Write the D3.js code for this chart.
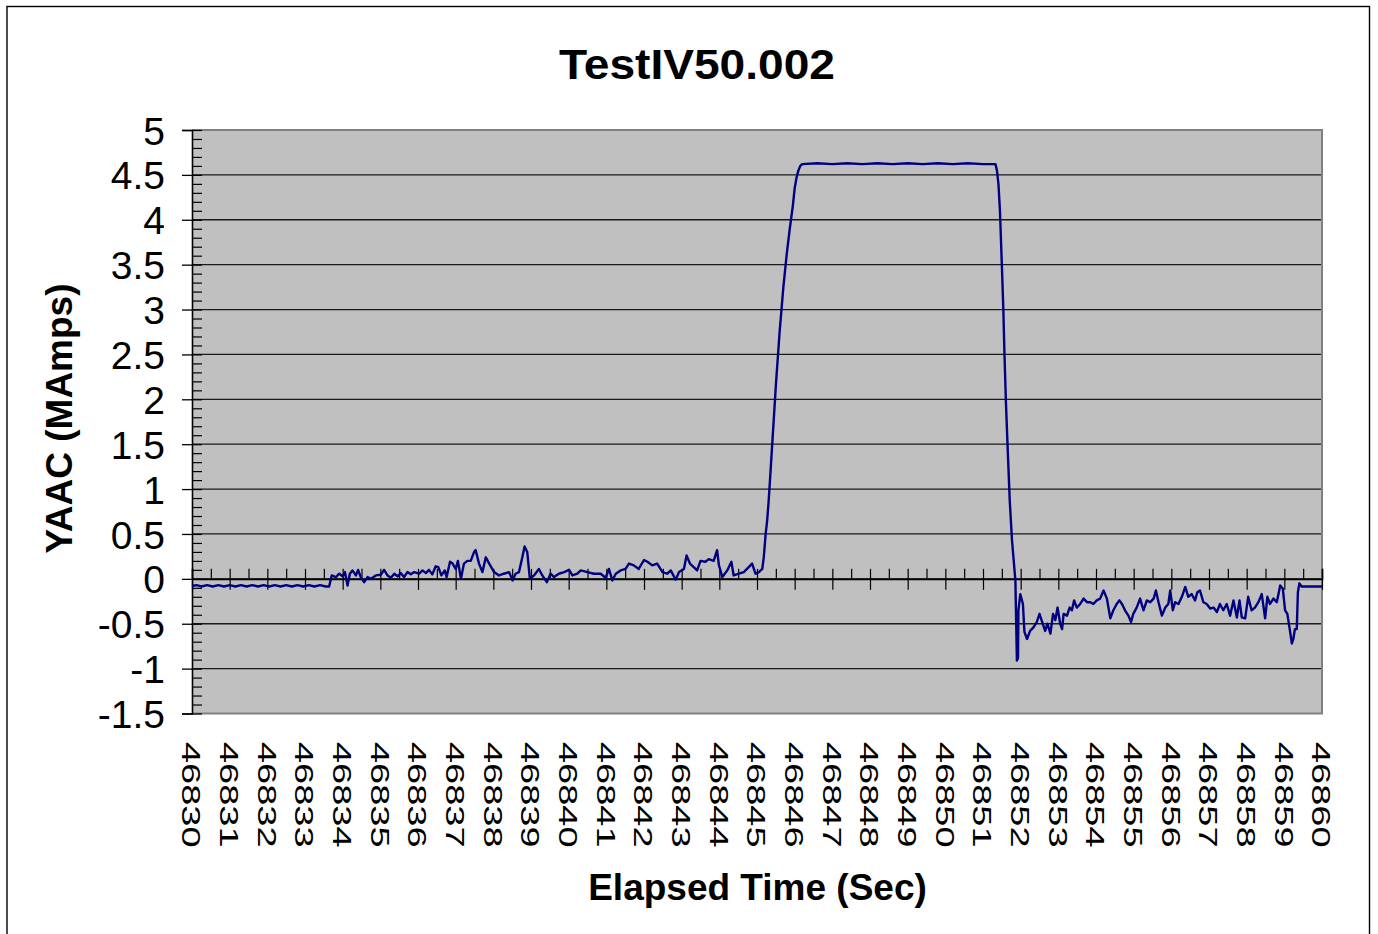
<!DOCTYPE html>
<html>
<head>
<meta charset="utf-8">
<script src="https://cdn.jsdelivr.net/npm/d3@7"></script>
<style>
  html, body { margin: 0; padding: 0; background: #fff; }
  svg { display: block; font-family: 'Liberation Sans', Arial, sans-serif; }
</style>
</head>
<body>
<svg id="chart" width="1378" height="934"></svg>
<script>
// seconds after 46830, YAAC in MAmps
const startSec = 46830
const endSec = 46860

const idleTrace = [
  [0, -0.08], [0.12, -0.07], [0.25, -0.085], [0.4, -0.07], [0.55, -0.085], [0.7, -0.07], [0.85, -0.085],
  [1.0, -0.07], [1.15, -0.085], [1.3, -0.07], [1.45, -0.085], [1.6, -0.07], [1.75, -0.085], [1.9, -0.07],
  [2.05, -0.085], [2.2, -0.07], [2.35, -0.085], [2.5, -0.07], [2.65, -0.085], [2.8, -0.07], [2.95, -0.085],
  [3.1, -0.07], [3.25, -0.085], [3.4, -0.07], [3.55, -0.085], [3.64, -0.085]
]

const preTrace = [
  [3.71, 0.038], [3.82, 0.02], [3.91, 0.057], [4.0, 0.027], [4.06, 0.075], [4.13, -0.074], [4.19, 0.057],
  [4.26, 0.094], [4.35, 0.038], [4.41, 0.1], [4.48, 0.02], [4.57, -0.037], [4.66, 0.02], [4.75, 0.0],
  [4.88, 0.038], [5.01, 0.046], [5.1, 0.1], [5.19, 0.038], [5.28, 0.012], [5.37, 0.057], [5.46, 0.027],
  [5.54, 0.064], [5.63, 0.02], [5.72, 0.075], [5.81, 0.05], [5.9, 0.075], [6.03, 0.057], [6.12, 0.094],
  [6.21, 0.064], [6.29, 0.1], [6.38, 0.05], [6.47, 0.14], [6.54, 0.13], [6.62, 0.038], [6.71, 0.094],
  [6.76, 0.02], [6.85, 0.19], [6.92, 0.17], [7.0, 0.11], [7.06, 0.2], [7.14, 0.0], [7.22, 0.17],
  [7.31, 0.2], [7.4, 0.2], [7.49, 0.3], [7.53, 0.32], [7.62, 0.17], [7.71, 0.075], [7.8, 0.24],
  [7.89, 0.17], [8.02, 0.075], [8.15, 0.038], [8.28, 0.057], [8.42, 0.075], [8.51, -0.018], [8.59, 0.057],
  [8.68, 0.075], [8.77, 0.24], [8.83, 0.36], [8.9, 0.3], [8.97, 0.0], [9.08, 0.038], [9.21, 0.11],
  [9.3, 0.038], [9.42, -0.037], [9.52, 0.057], [9.61, 0.02], [9.74, 0.057], [9.88, 0.075], [10.01, 0.1],
  [10.1, 0.038], [10.23, 0.057], [10.32, 0.094], [10.5, 0.075], [10.67, 0.057], [10.85, 0.057], [10.98, 0.012],
  [11.07, 0.11], [11.16, -0.018], [11.25, 0.057], [11.38, 0.094], [11.51, 0.11], [11.6, 0.17], [11.73, 0.15],
  [11.86, 0.11], [12.0, 0.21], [12.09, 0.19], [12.22, 0.15], [12.35, 0.17], [12.49, 0.075], [12.62, 0.057],
  [12.71, 0.094], [12.84, -0.01], [12.93, 0.075], [13.06, 0.11], [13.13, 0.26], [13.22, 0.17], [13.32, 0.13],
  [13.41, 0.094], [13.5, 0.2], [13.63, 0.19], [13.72, 0.22], [13.85, 0.2], [13.94, 0.32], [13.99, 0.15],
  [14.08, 0.02], [14.21, 0.094], [14.32, 0.19], [14.38, 0.038], [14.52, 0.057], [14.65, 0.075], [14.78, 0.13],
  [14.87, 0.17], [14.96, 0.057], [15.05, 0.075], [15.14, 0.11], [15.18, 0.24]
]

const pulseTrace = [
  [15.23, 0.5], [15.27, 0.65], [15.31, 0.87], [15.36, 1.2], [15.41, 1.54], [15.5, 2.15], [15.6, 2.75],
  [15.7, 3.25], [15.79, 3.62], [15.87, 3.9], [15.95, 4.15], [16.0, 4.35], [16.05, 4.47],
  [16.1, 4.55], [16.15, 4.6], [16.2, 4.62], [16.6, 4.63], [17.0, 4.62], [17.4, 4.63], [17.8, 4.62],
  [18.2, 4.63], [18.6, 4.62], [19.0, 4.63], [19.4, 4.62], [19.8, 4.63], [20.2, 4.62], [20.6, 4.63],
  [21.0, 4.62], [21.33, 4.62], [21.37, 4.55], [21.41, 4.4], [21.45, 4.1], [21.5, 3.5], [21.54, 3.0],
  [21.57, 2.5], [21.61, 1.95], [21.66, 1.4], [21.71, 0.87], [21.77, 0.43], [21.86, -0.02], [21.9, -0.91],
  [21.93, -0.88]
]

const postTrace = [
  [21.94, -0.35], [21.99, -0.17], [22.06, -0.28], [22.1, -0.59], [22.17, -0.67], [22.25, -0.58], [22.34, -0.54],
  [22.43, -0.48], [22.5, -0.39], [22.57, -0.48], [22.65, -0.58], [22.71, -0.5], [22.79, -0.61], [22.86, -0.39],
  [22.92, -0.46], [22.98, -0.32], [23.05, -0.5], [23.1, -0.56], [23.14, -0.39], [23.23, -0.41], [23.3, -0.32],
  [23.36, -0.35], [23.42, -0.24], [23.49, -0.32], [23.58, -0.28], [23.67, -0.22], [23.76, -0.26], [23.85, -0.26],
  [23.93, -0.28], [24.02, -0.24], [24.11, -0.22], [24.2, -0.13], [24.29, -0.22], [24.38, -0.44], [24.46, -0.35],
  [24.55, -0.28], [24.62, -0.24], [24.69, -0.28], [24.77, -0.35], [24.86, -0.41], [24.93, -0.48], [24.99, -0.39],
  [25.08, -0.32], [25.17, -0.22], [25.26, -0.35], [25.35, -0.24], [25.44, -0.26], [25.53, -0.22], [25.59, -0.13],
  [25.66, -0.26], [25.75, -0.41], [25.84, -0.32], [25.92, -0.28], [25.97, -0.13], [26.04, -0.35], [26.1, -0.26],
  [26.19, -0.28], [26.28, -0.2], [26.37, -0.09], [26.45, -0.2], [26.54, -0.17], [26.63, -0.24], [26.69, -0.15],
  [26.76, -0.13], [26.85, -0.26], [26.94, -0.28], [27.03, -0.33], [27.12, -0.32], [27.21, -0.37], [27.29, -0.28],
  [27.38, -0.35], [27.47, -0.28], [27.56, -0.41], [27.65, -0.24], [27.74, -0.43], [27.81, -0.24], [27.87, -0.43],
  [27.96, -0.44], [28.04, -0.2], [28.13, -0.35], [28.22, -0.32], [28.31, -0.26], [28.4, -0.17], [28.49, -0.44],
  [28.55, -0.2], [28.62, -0.28], [28.71, -0.22], [28.8, -0.26], [28.89, -0.074], [28.96, -0.11], [29.02, -0.35],
  [29.08, -0.39], [29.15, -0.58], [29.2, -0.72], [29.24, -0.67], [29.28, -0.56], [29.33, -0.56], [29.36, -0.15],
  [29.4, -0.05], [29.46, -0.085], [30.0, -0.085]
]

const yTicks = [-1.5, -1, -0.5, 0, 0.5, 1, 1.5, 2, 2.5, 3, 3.5, 4, 4.5, 5]
const xLabels = d3.range(startSec, endSec + 1)

const title = 'TestIV50.002'
const yTitle = 'YAAC (MAmps)'
const xTitle = 'Elapsed Time (Sec)'

const svg = d3.select('#chart')
const plot = { left: 192, right: 1322, top: 130, bottom: 713.5 }

const x = d3.scaleLinear().domain([startSec, endSec]).range([plot.left, plot.right])
const y = d3.scaleLinear().domain([-1.5, 5]).range([plot.bottom, plot.top])
const fmt = (v) => String(v).replace('\u2212', '-')

// outer frame
svg.append('rect').attr('x', 7).attr('y', 6.5).attr('width', 1362.5).attr('height', 960)
  .attr('fill', '#fff').attr('stroke', '#000').attr('stroke-width', 1.4)

// plot area
svg.append('rect').attr('x', plot.left).attr('y', plot.top)
  .attr('width', plot.right - plot.left).attr('height', plot.bottom - plot.top)
  .attr('fill', '#c0c0c0')

svg.append('g').selectAll('line').data(yTicks.filter((v) => v !== -1.5 && v !== 5)).join('line')
  .attr('x1', plot.left).attr('x2', plot.right)
  .attr('y1', (v) => y(v)).attr('y2', (v) => y(v))
  .attr('stroke', '#1a1a1a').attr('stroke-width', 1.3)

// plot border (grey)
svg.append('path')
  .attr('d', `M${plot.left},${plot.top}H${plot.right}V${plot.bottom}H${plot.left}`)
  .attr('fill', 'none').attr('stroke', '#808080').attr('stroke-width', 2)

// y axis: major ticks out, minor ticks in
const yMinor = d3.range(-15, 51).map((k) => k / 10)
svg.append('g').attr('transform', `translate(${plot.left},0)`)
  .call(d3.axisRight(y).tickValues(yMinor).tickSize(10).tickFormat(''))
  .call((g) => g.select('.domain').remove())
  .call((g) => g.selectAll('line').attr('stroke', '#000').attr('stroke-width', 1.2))

const yAxis = svg.append('g').attr('transform', `translate(${plot.left},0)`)
  .call(d3.axisLeft(y).tickValues(yTicks).tickSize(10).tickPadding(17).tickFormat(fmt))
yAxis.select('.domain').attr('stroke', '#000').attr('stroke-width', 1.6)
yAxis.selectAll('line').attr('stroke', '#000').attr('stroke-width', 1.3)
yAxis.selectAll('text').attr('font-size', 39).attr('fill', '#000')
  .attr('font-family', "'Liberation Sans', Arial, sans-serif").attr('dy', '0.36em')

// x axis along zero: half-second ticks above, whole seconds crossing
const y0 = y(0)
const xHalf = d3.range(0, 61).map((k) => startSec + k / 2)
svg.append('g').attr('transform', `translate(0,${y0})`)
  .call(d3.axisTop(x).tickValues(xHalf).tickSize(10).tickFormat(''))
  .call((g) => g.select('.domain').attr('stroke', '#000').attr('stroke-width', 1.6))
  .call((g) => g.selectAll('line').attr('stroke', '#000').attr('stroke-width', 1.2))
svg.append('g').attr('transform', `translate(0,${y0})`)
  .call(d3.axisBottom(x).tickValues(xLabels).tickSize(11).tickFormat(''))
  .call((g) => g.select('.domain').remove())
  .call((g) => g.selectAll('line').attr('stroke', '#000').attr('stroke-width', 1.2))

// trace
const trace = [...idleTrace, ...preTrace, ...pulseTrace, ...postTrace]
const line = d3.line().x((d) => x(startSec + d[0])).y((d) => y(d[1]))
svg.append('path').datum(trace).attr('d', line)
  .attr('fill', 'none').attr('stroke', '#000080').attr('stroke-width', 2.4).attr('stroke-linejoin', 'round')

// rotated category labels
svg.append('g').selectAll('text').data(xLabels).join('text')
  .attr('transform', (t) => `translate(${x(t)},742) rotate(90) scale(1,0.7)`)
  .attr('x', 0).attr('y', 13.6)
  .attr('font-size', 38).attr('fill', '#000')
  .text((t) => t)

// titles
svg.append('text').attr('x', 697).attr('y', 79).attr('text-anchor', 'middle')
  .attr('font-size', 43).attr('font-weight', 700).attr('textLength', 276).attr('lengthAdjust', 'spacingAndGlyphs')
  .text(title)

svg.append('text').attr('transform', 'translate(71.5,418.5) rotate(-90)').attr('text-anchor', 'middle')
  .attr('font-size', 37).attr('font-weight', 700)
  .text(yTitle)

svg.append('text').attr('x', 757.5).attr('y', 900).attr('text-anchor', 'middle')
  .attr('font-size', 37).attr('font-weight', 700)
  .text(xTitle)
</script>
</body>
</html>
